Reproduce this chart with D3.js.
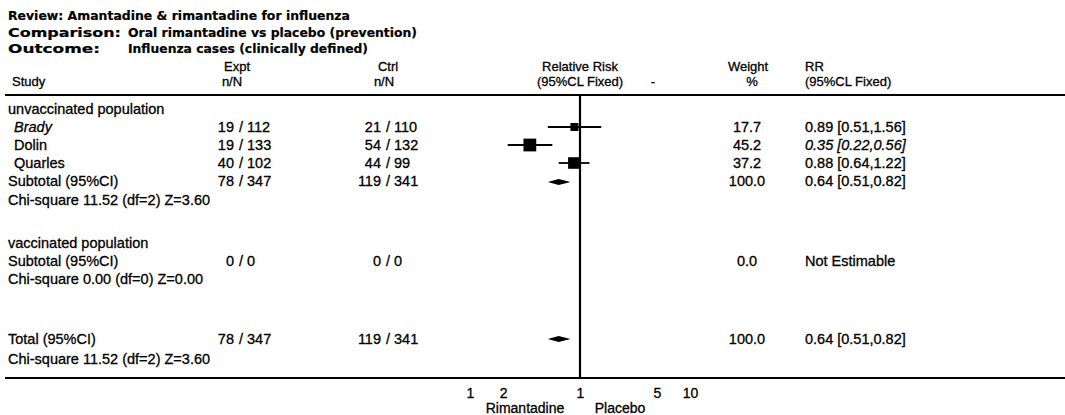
<!DOCTYPE html>
<html>
<head>
<meta charset="utf-8">
<script src="https://cdn.jsdelivr.net/npm/d3@7/dist/d3.min.js"></script>
<style>
  html, body { margin: 0; padding: 0; background: #fff; }
  svg { display: block; }
  text { font-family: "Liberation Sans", Arial, sans-serif; fill: #000; stroke: #000; stroke-width: 0.3px; }
  .title { font-family: "DejaVu Sans", sans-serif; font-weight: bold; font-size: 12.5px; stroke-width: 0.2px; }
  .hdr { font-size: 13px; }
  .body { font-size: 14.5px; }
  .tick text { font-size: 14px; }
</style>
</head>
<body>
<svg id="chart" width="1065" height="415"></svg>
<script>
// ---------------- data ----------------
const reviewTitle = "Review: Amantadine & rimantadine for influenza";
const comparisonText = "Oral rimantadine vs placebo (prevention)";
const outcomeText = "Influenza cases (clinically defined)";

const groupNames = ["unvaccinated population", "vaccinated population"];
const studies = ["Brady", "Dolin", "Quarles"];
const exptEvents = [19, 19, 40];
const exptTotal = [112, 133, 102];
const ctrlEvents = [21, 54, 44];
const ctrlTotal = [110, 132, 99];
const weights = [17.7, 45.2, 37.2];
const rr = [0.89, 0.35, 0.88];
const rrLow = [0.51, 0.22, 0.64];
const rrHigh = [1.56, 0.56, 1.22];

// subtotal rows: [unvaccinated, vaccinated]
const subExptEvents = [78, 0];
const subExptTotal = [347, 0];
const subCtrlEvents = [119, 0];
const subCtrlTotal = [341, 0];
const subWeights = [100.0, 0.0];
const subRR = [0.64, null];
const subLow = [0.51, null];
const subHigh = [0.82, null];
const subHetero = ["Chi-square 11.52 (df=2)  Z=3.60", "Chi-square 0.00 (df=0)  Z=0.00"];

// total
const totExpt = [78, 347];
const totCtrl = [119, 341];
const totWeight = 100.0;
const totRR = [0.64, 0.51, 0.82];
const totHetero = "Chi-square 11.52 (df=2)  Z=3.60";

const tickValues = [0.1, 0.2, 1, 5, 10];
const tickLabels = ["1", "2", "1", "5", "10"];
const favourLabels = ["Rimantadine", "Placebo"];

// ---------------- layout ----------------
const svg = d3.select("#chart");
const W = 1065;

const xScale = d3.scaleLog().domain([0.1, 10]).range([470, 690]);

const colStudy = 8, colStudyIndent = 14;
const colExptSlash = 239, colCtrlSlash = 386;
const colWeight = 747, colRR = 805;

const yRow = {
  review: 15, comparison: 32, outcome: 48,
  h1: 66, h2: 81, hline: 95,
  g1: 109, s: [127, 145, 163], sub1: 181, het1: 200,
  g2: 243, sub2: 261, het2: 279,
  tot: 339, totHet: 359, bline: 378, ticks: 395, fav: 408
};

function txt(x, y, s, cls, anchor, extra) {
  const t = svg.append("text")
    .attr("x", x).attr("y", y)
    .attr("class", cls)
    .attr("dominant-baseline", "central")
    .attr("text-anchor", anchor || "start")
    .text(s);
  if (extra) extra(t);
  return t;
}
const fit = w => t => t.attr("textLength", w).attr("lengthAdjust", "spacingAndGlyphs");

// title block
txt(colStudy, yRow.review, reviewTitle, "title", "start", fit(342));
txt(colStudy, yRow.comparison, "Comparison:", "title", "start", fit(113));
txt(128, yRow.comparison, comparisonText, "title", "start", fit(289));
txt(colStudy, yRow.outcome, "Outcome:", "title", "start", fit(92));
txt(128, yRow.outcome, outcomeText, "title", "start", fit(240));

// headers
txt(237, yRow.h1, "Expt", "hdr", "middle");
txt(232, yRow.h2, "n/N", "hdr", "middle");
txt(388, yRow.h1, "Ctrl", "hdr", "middle");
txt(384, yRow.h2, "n/N", "hdr", "middle");
txt(12, yRow.h2, "Study", "hdr", "start");
txt(xScale(1), yRow.h1, "Relative Risk", "hdr", "middle");
txt(xScale(1), yRow.h2, "(95%CL Fixed)", "hdr", "middle");
txt(653, yRow.h2, "-", "hdr", "middle");
txt(748, yRow.h1, "Weight", "hdr", "middle");
txt(752, yRow.h2, "%", "hdr", "middle");
txt(colRR, yRow.h1, "RR", "hdr", "start");
txt(colRR, yRow.h2, "(95%CL Fixed)", "hdr", "start");

// horizontal rules
svg.append("line").attr("x1", 5).attr("x2", W).attr("y1", yRow.hline).attr("y2", yRow.hline)
  .attr("stroke", "#000").attr("stroke-width", 1.8);
svg.append("line").attr("x1", 5).attr("x2", W).attr("y1", yRow.bline).attr("y2", yRow.bline)
  .attr("stroke", "#000").attr("stroke-width", 1.8);

// null line
svg.append("line").attr("x1", xScale(1)).attr("x2", xScale(1))
  .attr("y1", yRow.hline).attr("y2", yRow.bline)
  .attr("stroke", "#000").attr("stroke-width", 2.2);

function nN(slashX, y, n, N) {
  txt(slashX - 5, y, String(n), "body", "end");
  txt(slashX, y, "/ " + N, "body", "start");
}
const fmt2 = d3.format(".2f");
const fmt1 = d3.format(".1f");
function rrText(r, l, h) { return fmt2(r) + " [" + fmt2(l) + "," + fmt2(h) + "]"; }

// group 1
txt(colStudy, yRow.g1, groupNames[0], "body", "start");
studies.forEach((s, i) => {
  const y = yRow.s[i];
  txt(colStudyIndent, y, s, "body", "start", t => { if (i === 0) t.style("font-style", "italic"); });
  nN(colExptSlash, y, exptEvents[i], exptTotal[i]);
  nN(colCtrlSlash, y, ctrlEvents[i], ctrlTotal[i]);
  txt(colWeight, y, fmt1(weights[i]), "body", "middle");
  txt(colRR, y, rrText(rr[i], rrLow[i], rrHigh[i]), "body", "start", t => { if (i === 1) t.style("font-style", "italic"); });
  svg.append("line")
    .attr("x1", xScale(rrLow[i])).attr("x2", xScale(rrHigh[i]))
    .attr("y1", y).attr("y2", y)
    .attr("stroke", "#000").attr("stroke-width", 1.8);
  const side = 1.9 * Math.sqrt(weights[i]);
  svg.append("rect")
    .attr("x", xScale(rr[i]) - side / 2).attr("y", y - side / 2)
    .attr("width", side).attr("height", side)
    .attr("fill", "#000");
});

function diamond(r, l, h, y, hh) {
  const pts = [[xScale(l), y], [xScale(r), y - hh], [xScale(h), y], [xScale(r), y + hh]];
  svg.append("path").attr("d", d3.line()(pts) + "Z").attr("fill", "#000");
}

// subtotal 1
txt(colStudy, yRow.sub1, "Subtotal (95%CI)", "body", "start");
nN(colExptSlash, yRow.sub1, subExptEvents[0], subExptTotal[0]);
nN(colCtrlSlash, yRow.sub1, subCtrlEvents[0], subCtrlTotal[0]);
txt(colWeight, yRow.sub1, fmt1(subWeights[0]), "body", "middle");
txt(colRR, yRow.sub1, rrText(subRR[0], subLow[0], subHigh[0]), "body", "start");
diamond(subRR[0], subLow[0], subHigh[0], yRow.sub1 + 1, 3);
txt(colStudy, yRow.het1, subHetero[0], "body", "start");

// group 2
txt(colStudy, yRow.g2, groupNames[1], "body", "start");
txt(colStudy, yRow.sub2, "Subtotal (95%CI)", "body", "start");
nN(colExptSlash, yRow.sub2, subExptEvents[1], subExptTotal[1]);
nN(colCtrlSlash, yRow.sub2, subCtrlEvents[1], subCtrlTotal[1]);
txt(colWeight, yRow.sub2, fmt1(subWeights[1]), "body", "middle");
txt(colRR, yRow.sub2, "Not Estimable", "body", "start");
txt(colStudy, yRow.het2, subHetero[1], "body", "start");

// total
txt(colStudy, yRow.tot, "Total (95%CI)", "body", "start");
nN(colExptSlash, yRow.tot, totExpt[0], totExpt[1]);
nN(colCtrlSlash, yRow.tot, totCtrl[0], totCtrl[1]);
txt(colWeight, yRow.tot, fmt1(totWeight), "body", "middle");
txt(colRR, yRow.tot, rrText(totRR[0], totRR[1], totRR[2]), "body", "start");
diamond(totRR[0], totRR[1], totRR[2], yRow.tot, 3);
txt(colStudy, yRow.totHet, totHetero, "body", "start");

// axis (log scale, labels only)
const axis = d3.axisBottom(xScale)
  .tickValues(tickValues)
  .tickFormat((d, i) => tickLabels[i])
  .tickSize(0).tickPadding(0);
const gAxis = svg.append("g").attr("transform", `translate(0,${yRow.ticks - 7})`).call(axis);
gAxis.select(".domain").remove();
gAxis.selectAll("text").attr("fill", "#000")
  .style("font-family", '"Liberation Sans", Arial, sans-serif').style("font-size", "14px");

txt(525, yRow.fav, favourLabels[0], "body", "middle", t => t.style("font-size", "14px"));
txt(620, yRow.fav, favourLabels[1], "body", "middle", t => t.style("font-size", "14px"));
</script>
</body>
</html>
